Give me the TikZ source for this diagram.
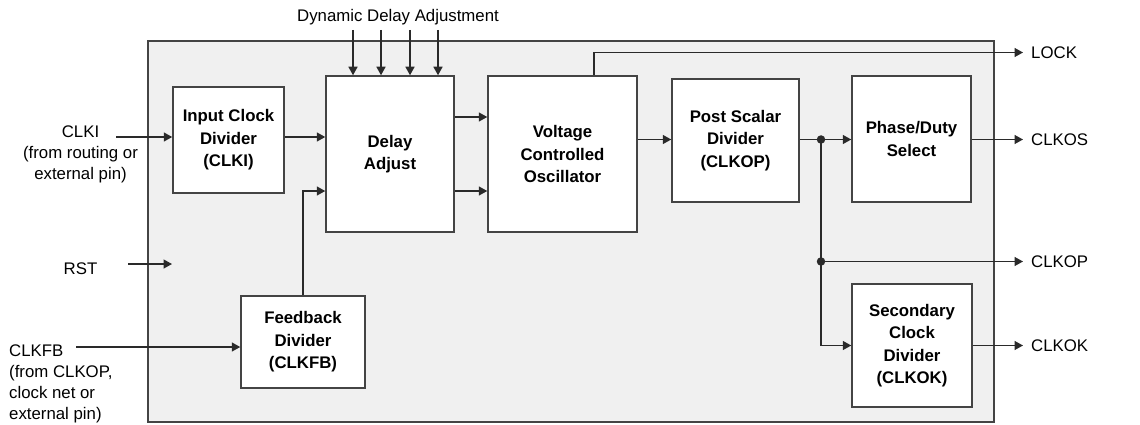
\documentclass[tikz,border=0pt]{standalone}
\usepackage{fontspec}
\setmainfont{Liberation Sans}
\usetikzlibrary{arrows.meta}
\definecolor{ln}{HTML}{2A2A2A}
\definecolor{bx}{HTML}{444444}
\definecolor{bg}{HTML}{F0F0F0}
\begin{document}
\begin{tikzpicture}[x=1pt,y=-1pt,
  blk/.style={draw=bx, line width=1.5pt, fill=white, inner sep=0pt, align=center,
    font=\fontsize{16.8}{22.5}\selectfont\bfseries},
  lbl/.style={inner sep=0pt, font=\fontsize{16.8}{21}\selectfont},
  arr/.style={draw=ln, line width=1.4pt, -{Triangle[length=8.5pt,width=9pt]}},
  wire/.style={draw=ln, line width=1.4pt},
  dotn/.style={circle, fill=ln, inner sep=0pt, minimum size=8.5pt}]
\useasboundingbox (0,0) rectangle (1140,425);
% outer box
\node[draw=bx, line width=1.5pt, fill=bg, minimum width=846pt, minimum height=381pt, inner sep=0pt, outer sep=0pt] (pll) at (571,231.5) {};
% blocks
\node[blk, minimum width=111pt, minimum height=106pt] (icd) at (228.5,140) {Input Clock\\Divider\\(CLKI)};
\node[blk, minimum width=128pt, minimum height=156pt] (da) at (390,154) {Delay\\Adjust};
\node[blk, minimum width=149pt, minimum height=156pt] (vco) at (562.5,154) {Voltage\\Controlled\\Oscillator};
\node[blk, minimum width=127pt, minimum height=123pt] (psd) at (735.5,140.5) {Post Scalar\\Divider\\(CLKOP)};
\node[blk, minimum width=119pt, minimum height=126pt] (pds) at (911.5,139) {Phase/Duty\\Select};
\node[blk, minimum width=120pt, minimum height=123pt] (scd) at (912,345.5) {Secondary\\Clock\\Divider\\(CLKOK)};
\node[blk, minimum width=124pt, minimum height=92pt] (fbd) at (303,342) {Feedback\\Divider\\(CLKFB)};
% left labels
\node[lbl, align=center] (clki) at (80.5,154) {CLKI\\(from routing or\\external pin)};
\node[lbl, anchor=base] (rst) at (80.5,274) {RST};
\node[lbl, align=left, anchor=west] (clkfb) at (9,384) {CLKFB\\(from CLKOP,\\clock net or\\external pin)};
\node[lbl, anchor=base] (dda) at (398,21.5) {Dynamic Delay Adjustment};
% right labels
\node[lbl, anchor=west] (lock) at (1031,52.5) {LOCK};
\node[lbl, anchor=west] (clkos) at (1031,139.5) {CLKOS};
\node[lbl, anchor=west] (clkop) at (1031,261.5) {CLKOP};
\node[lbl, anchor=west] (clkok) at (1031,345.5) {CLKOK};
% coordinates
\coordinate (ci) at (116,137);
\coordinate (rs) at (128,264);
\coordinate (re) at (172,264);
\coordinate (cf) at (76,347);
\coordinate (d1) at (353,30);
\coordinate (d2) at (381,30);
\coordinate (d3) at (410,30);
\coordinate (d4) at (438,30);
\coordinate (lk) at (594,52.5);
\coordinate (tlock) at (1023,52.5);
\coordinate (tos) at (1023,139.5);
\coordinate (top) at (1023,261.5);
\coordinate (tok) at (1023,345.5);
\node[dotn] (j1) at (821,139.5) {};
\node[dotn] (j2) at (821,261.5) {};
% connectors
\draw[arr] (ci) -- (ci -| icd.west);
\draw[arr] (rs) -- (re);
\draw[arr] (cf) -- (cf -| fbd.west);
\draw[arr] (d1) -- (d1 |- da.north);
\draw[arr] (d2) -- (d2 |- da.north);
\draw[arr] (d3) -- (d3 |- da.north);
\draw[arr] (d4) -- (d4 |- da.north);
\draw[arr] (icd.east |- ci) -- (da.west |- ci);
\draw[arr] ([yshift=37pt]da.east) -- ([yshift=37pt]da.east -| vco.west);
\draw[arr] ([yshift=-37pt]da.east) -- ([yshift=-37pt]da.east -| vco.west);
\draw[arr] (fbd.north) |- ([yshift=-37pt]da.west);
\draw[arr] (vco.east |- j1) -- (psd.west |- j1);
\draw[wire] (lk |- vco.north) -- (lk);
\draw[arr] (lk) -- (tlock);
\draw[wire] (psd.east |- j1) -- (j1.center);
\draw[arr] (j1.center) -- (pds.west |- j1);
\draw[arr] (pds.east |- tos) -- (tos);
\draw[arr] (j1.center) |- (scd.west);
\draw[arr] (j2.center) -- (top);
\draw[arr] (scd.east) -- (tok);
\end{tikzpicture}
\end{document}
